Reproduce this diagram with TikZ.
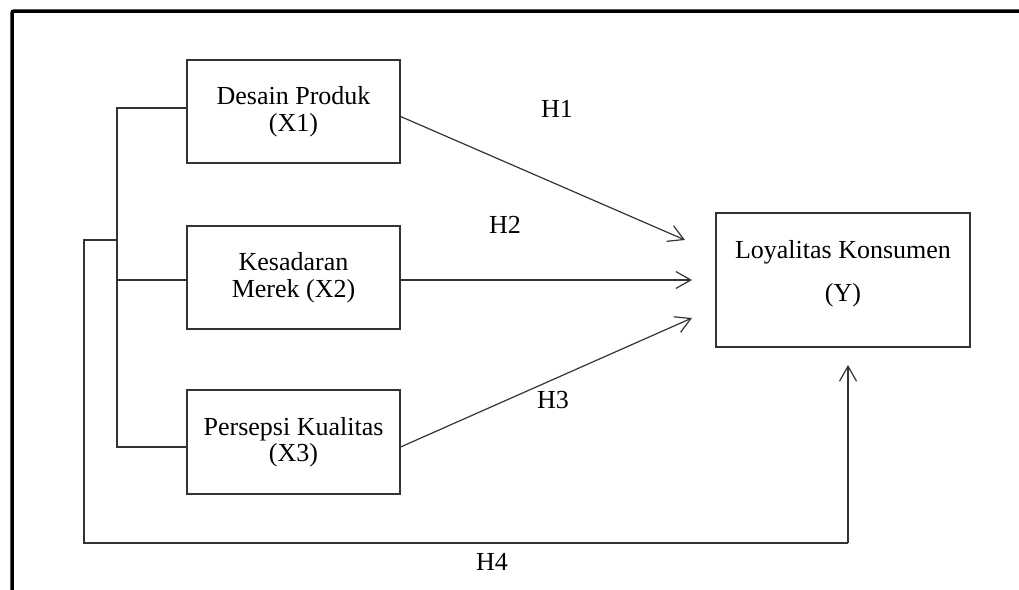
\documentclass[tikz,border=0pt]{standalone}
\usepackage{fontspec}
\setmainfont{Liberation Serif}
\usetikzlibrary{arrows.meta,calc}
\begin{document}
\begin{tikzpicture}[x=1pt,y=-1pt,
  every node/.style={font=\fontsize{26}{26.5}\selectfont, text=black},
  box/.style={draw=black!80, line width=1.2pt, align=center, inner sep=0pt},
  conn/.style={draw=black!80, line width=1.2pt},
  arr/.style={conn, -{Straight Barb[length=15pt,width=17pt,line width=1.2pt]}},
  frame/.style={draw=black, line width=3.5pt, rounded corners=2pt},
  hlabel/.style={anchor=base, inner sep=0pt}]
\useasboundingbox (0,0) rectangle (1019,589);
\draw[frame] (12,600) -- (12,11) -- (1030,11);

\node[box, minimum width=213pt, minimum height=103pt] (x1) at (293.5,111.5) {Desain Produk\\(X1)};
\node[box, minimum width=213pt, minimum height=103pt] (x2) at (293.5,277.5) {Kesadaran\\[1pt]Merek (X2)};
\node[box, minimum width=213pt, minimum height=104pt] (x3) at (293.5,442) {Persepsi Kualitas\\(X3)};
\node[box, minimum width=254pt, minimum height=134pt] (y) at (843,280) {Loyalitas Konsumen\\[16.5pt](Y)\rule[-18pt]{0pt}{1pt}};

\coordinate (t1) at (685,240);
\coordinate (t2) at (692,280);
\coordinate (t3) at (692,318);
\coordinate (t4) at (848,365);

\draw[arr] ($(x1.east)+(0,5)$) -- (t1);
\draw[arr] ($(x2.east)+(0,2.5)$) -- (t2);
\draw[arr] ($(x3.east)+(0,5)$) -- (t3);

\draw[conn] ($(x1.west)+(0,-3.5)$) -- (117,108) -- (117,447) -- ($(x3.west)+(0,5)$);
\draw[conn] (117,280) -- ($(x2.west)+(0,2.5)$);
\draw[conn] (117,240) -- (84,240) -- (84,543) -- (848,543);
\draw[arr] (848,543) -- (t4);

\node[hlabel] (h1) at (557,117) {H1};
\node[hlabel] (h2) at (505,233) {H2};
\node[hlabel] (h3) at (553,408) {H3};
\node[hlabel] (h4) at (492,570) {H4};
\end{tikzpicture}
\end{document}
